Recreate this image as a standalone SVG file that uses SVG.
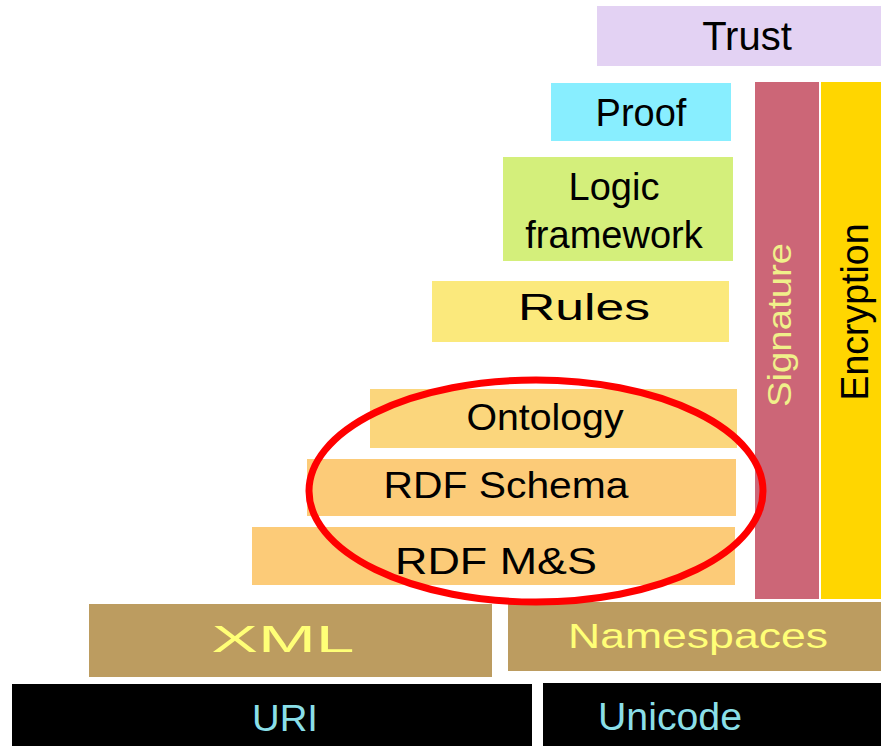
<svg xmlns="http://www.w3.org/2000/svg" width="881" height="746" viewBox="0 0 881 746">
<style>
text { font-family: "Liberation Sans", Arial, sans-serif; text-anchor: middle; }
.dark { fill: #000000; }
.yel { fill: #ffff77; }
.cyan { fill: #8adfe8; }
</style>
<rect width="881" height="746" fill="#ffffff"/>
<g id="trust"><rect x="597" y="6" width="284" height="60" fill="#e3d2f3"/><text class="dark" x="747" y="50" font-size="40">Trust</text></g>
<g id="proof"><rect x="551" y="83" width="180" height="58" fill="#88eeff"/><text class="dark" x="641" y="126" font-size="38">Proof</text></g>
<g id="signature"><rect x="755" y="82" width="64" height="517" fill="#cc6677"/><text x="0" y="0" font-size="34" fill="#f0f08a" textLength="164" lengthAdjust="spacingAndGlyphs" transform="translate(791,325) rotate(-90)">Signature</text></g>
<g id="encryption"><rect x="821" y="82" width="60" height="517" fill="#ffd600"/><text class="dark" x="0" y="0" font-size="38" textLength="177" lengthAdjust="spacingAndGlyphs" transform="translate(868,312) rotate(-90)">Encryption</text></g>
<g id="logic"><rect x="503" y="157" width="230" height="104" fill="#d4ef7b"/><text class="dark" x="614" y="200" font-size="38">Logic</text><text class="dark" x="614" y="248" font-size="38">framework</text></g>
<g id="rules"><rect x="432" y="281" width="297" height="61" fill="#fbe97c"/><text class="dark" x="584" y="320" font-size="36" textLength="132" lengthAdjust="spacingAndGlyphs">Rules</text></g>
<g id="ontology"><rect x="370" y="389" width="367" height="59" fill="#fbd67c"/><text class="dark" x="545" y="430" font-size="37" textLength="157" lengthAdjust="spacingAndGlyphs">Ontology</text></g>
<g id="rdfschema"><rect x="307" y="459" width="429" height="57" fill="#fccb78"/><text class="dark" x="506" y="498" font-size="37" textLength="245" lengthAdjust="spacingAndGlyphs">RDF Schema</text></g>
<g id="rdfms"><rect x="252" y="527" width="483" height="58" fill="#fccb78"/><text class="dark" x="496" y="574" font-size="37" textLength="202" lengthAdjust="spacingAndGlyphs">RDF M&amp;S</text></g>
<g id="xml"><rect x="89" y="604" width="403" height="73" fill="#bc9c60"/><text class="yel" x="283" y="652" font-size="37" textLength="143" lengthAdjust="spacingAndGlyphs">XML</text></g>
<g id="namespaces"><rect x="508" y="602" width="373" height="69" fill="#bc9c60"/><text class="yel" x="698" y="648" font-size="35" textLength="260" lengthAdjust="spacingAndGlyphs">Namespaces</text></g>
<g id="uri"><rect x="12" y="684" width="520" height="62" fill="#000000"/><text class="cyan" x="285" y="731" font-size="37" textLength="66" lengthAdjust="spacingAndGlyphs">URI</text></g>
<g id="unicode"><rect x="543" y="683" width="338" height="63" fill="#000000"/><text class="cyan" x="670" y="730" font-size="38" textLength="144" lengthAdjust="spacingAndGlyphs">Unicode</text></g>
<g id="highlight"><ellipse cx="536" cy="491" rx="227" ry="111" fill="none" stroke="#ff0000" stroke-width="7"/></g>
</svg>
